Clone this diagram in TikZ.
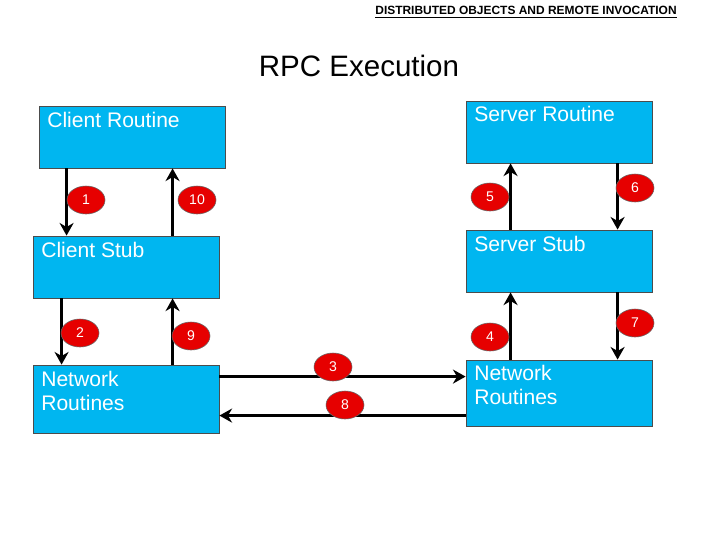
\documentclass[tikz,border=0pt]{standalone}
\usepackage{fontspec}
\setmainfont{Liberation Sans}
\usetikzlibrary{arrows.meta,shapes.geometric}
\begin{document}
\begin{tikzpicture}[x=0.025cm,y=-0.025cm,
  box/.style={draw=black!70,line width=0.6pt,fill={rgb,255:red,0;green,182;blue,240},minimum width=186*0.025cm,inner sep=0},
  lab/.style={text=white,font=\fontsize{15}{17}\selectfont,align=left,anchor=north west,inner sep=0},
  arr/.style={line width=2.6pt,-{Stealth[length=9pt,width=10pt]}},
  num/.style={ellipse,fill={rgb,255:red,230;green,0;blue,0},draw=black!60,line width=0.4pt,minimum width=38*0.025cm,minimum height=28*0.025cm,inner sep=0,text=white,font=\fontsize{10}{12}\selectfont}]
\useasboundingbox (0,0) rectangle (720,540);
\node[font=\bfseries\fontsize{8.5}{10}\selectfont] (hd) at (526,12) {\underline{DISTRIBUTED OBJECTS AND REMOTE INVOCATION}};
\node[font=\fontsize{21}{24}\selectfont] (ti) at (359,66) {RPC Execution};
% boxes
\node[box,minimum height=62*0.025cm] (cr) at (132,137) {};
\node[box,minimum height=62*0.025cm] (cs) at (126,267) {};
\node[box,minimum height=68*0.025cm] (cn) at (126,399) {};
\node[box,minimum height=62*0.025cm] (sr) at (559,132) {};
\node[box,minimum height=62*0.025cm] (ss) at (559,261) {};
\node[box,minimum height=66*0.025cm] (sn) at (559,393) {};
\node[lab] (crl) at (47,112) {Client Routine};
\node[lab] (csl) at (41,242) {Client Stub};
\node[lab] (cnl) at (41,371) {Network\\Routines};
\node[lab] (srl) at (474,106) {Server Routine};
\node[lab] (ssl) at (474,236) {Server Stub};
\node[lab] (snl) at (474,365) {Network\\Routines};
% arrows
\draw[arr] ([xshift=28*0.025cm]cr.south west) -- ([xshift=28*0.025cm]cr.south west |- cs.north);
\draw[arr] ([xshift=140*0.025cm]cs.north west) -- ([xshift=140*0.025cm]cs.north west |- cr.south);
\draw[arr] ([xshift=29*0.025cm]cs.south west) -- ([xshift=29*0.025cm]cs.south west |- cn.north);
\draw[arr] ([xshift=140*0.025cm]cn.north west) -- ([xshift=140*0.025cm]cn.north west |- cs.south);
\draw[arr] ([xshift=45*0.025cm]ss.north west) -- ([xshift=45*0.025cm]ss.north west |- sr.south);
\draw[arr] ([xshift=152*0.025cm]sr.south west) -- ([xshift=152*0.025cm]sr.south west |- ss.north);
\draw[arr] ([xshift=45*0.025cm]sn.north west) -- ([xshift=45*0.025cm]sn.north west |- ss.south);
\draw[arr] ([xshift=152*0.025cm]ss.south west) -- ([xshift=152*0.025cm]ss.south west |- sn.north);
\draw[arr] ([yshift=-12*0.025cm]cn.north east) -- ([yshift=-12*0.025cm]cn.north east -| sn.west);
\draw[arr] ([yshift=-56*0.025cm]sn.north west) -- ([yshift=-56*0.025cm]sn.north west -| cn.east);
% numbers
\node[num] (n1) at (86,200) {1};
\node[num] (n10) at (197,200) {10};
\node[num] (n2) at (80,333) {2};
\node[num] (n9) at (191,336) {9};
\node[num] (n3) at (333,367) {3};
\node[num] (n8) at (345,405) {8};
\node[num] (n5) at (490,197) {5};
\node[num] (n6) at (635,188) {6};
\node[num] (n4) at (490,337) {4};
\node[num] (n7) at (635,323) {7};
\end{tikzpicture}
\end{document}
